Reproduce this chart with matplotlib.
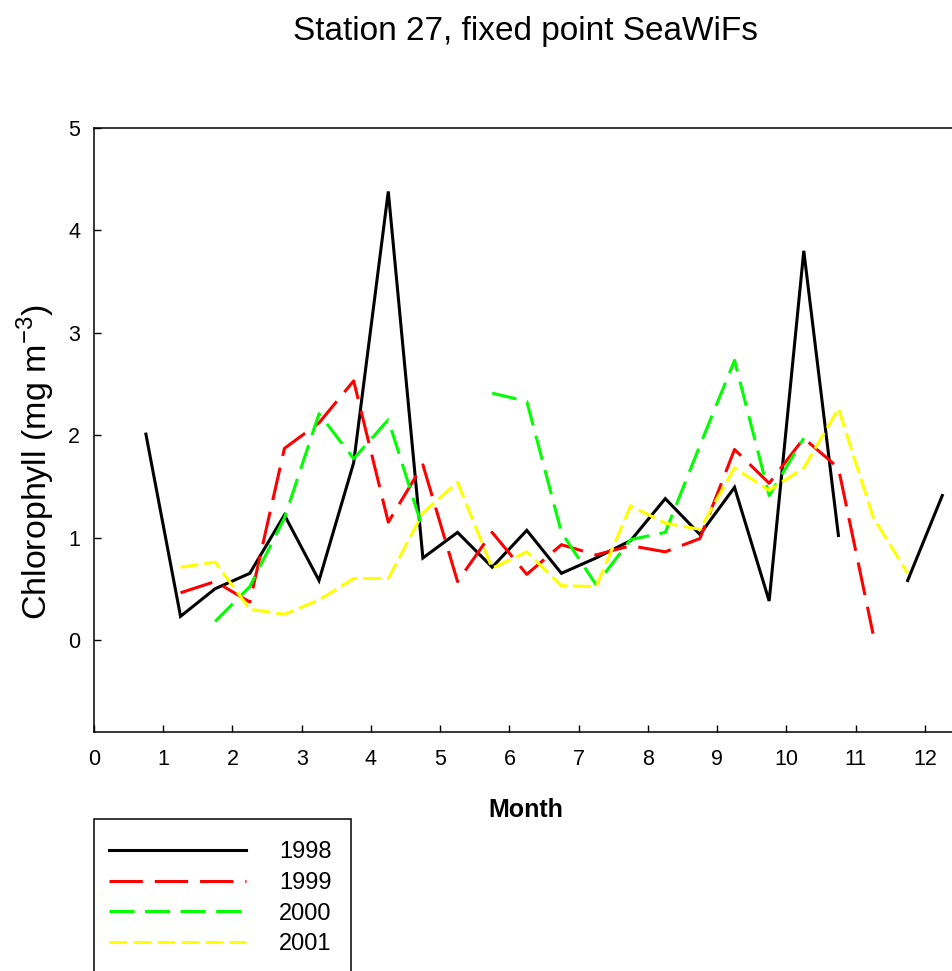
import numpy as np
import matplotlib
matplotlib.use("Agg")
import matplotlib.pyplot as plt
from matplotlib.patches import Rectangle

# Semi-monthly SeaWiFS chlorophyll at station 27 (NaN = no retrieval)
months = [0.75, 1.25, 1.75, 2.25, 2.75, 3.25, 3.75, 4.25, 4.75, 5.25, 5.75, 6.25,
          6.75, 7.25, 7.75, 8.25, 8.75, 9.25, 9.75, 10.25, 10.75, 11.25, 11.75, 12.25]
nan = np.nan
chl_1998 = [2.01, 0.23, 0.50, 0.65, 1.22, 0.58, 1.73, 4.38, 0.80, 1.05, 0.71, 1.07,
            0.65, 0.80, 0.97, 1.38, 1.03, 1.49, 0.38, 3.80, 1.02, nan, 0.58, 1.41]
chl_1999 = [nan, 0.46, 0.57, 0.37, 1.87, 2.12, 2.53, 1.15, 1.71, 0.57, 1.05, 0.64,
            0.93, 0.83, 0.92, 0.86, 0.99, 1.86, 1.53, 1.97, 1.68, 0.06, nan, nan]
chl_2000 = [nan, nan, 0.18, 0.52, 1.19, 2.21, 1.77, 2.15, 1.08, nan, 2.41, 2.33,
            1.05, 0.54, 0.98, 1.05, 1.90, 2.73, 1.41, 1.97, nan, nan, nan, nan]
chl_2001 = [nan, 0.71, 0.76, 0.30, 0.25, 0.39, 0.60, 0.60, 1.24, 1.54, 0.70, 0.86,
            0.53, 0.52, 1.31, 1.14, 1.08, 1.68, 1.46, 1.68, 2.26, 1.20, 0.65, nan]
years = ['1998', '1999', '2000', '2001']
colores = ['black', '#ff0000', '#00ff00', '#ffff00']
guiones = ['-', (0, (24, 8.6)), (0, (18, 7.6)), (0, (13, 4.3))]

plt.rcParams['font.family'] = ['Liberation Sans', 'DejaVu Sans']
plt.rcParams['lines.scale_dashes'] = False

fig = plt.figure(figsize=(9.53, 9.71), dpi=100)
ax = fig.add_axes([0.0986, 0.2461, 0.9044, 0.6221])

series = [chl_1998, chl_1999, chl_2000, chl_2001]
for valores, year, color, ls in zip(series, years, colores, guiones):
    ax.plot(months, valores, color=color, linestyle=ls, linewidth=2.2,
            label=year, solid_joinstyle='miter')

ax.set_xlim(0, 12.446)
ax.set_ylim(-0.9, 5)
ax.set_xticks(range(0, 13))
ax.set_yticks(range(0, 6))
ax.tick_params(direction='in', length=5, width=1, labelsize=15.5, color='black')
ax.tick_params(axis='x', pad=12)
ax.tick_params(axis='y', pad=10)
for sp in ax.spines.values():
    sp.set_linewidth(1.1)

fig.text(0.551, 0.968, 'Station 27, fixed point SeaWiFs', ha='center', va='center',
         fontsize=24)
fig.text(0.552, 0.1658, 'Month', ha='center', va='center', fontsize=18,
         fontweight='bold')
fig.text(0.038, 0.524, r'Chlorophyll (mg m$^{\mathregular{-3}}$)', ha='center',
         va='center', rotation=90, fontsize=24.5)

# legend box runs off the bottom of the page
caja = Rectangle((94 / 953, -0.02), (351 - 94) / 953, 1 - 819 / 971 + 0.02,
                 transform=fig.transFigure, fill=False, edgecolor='black',
                 linewidth=1.1)
fig.add_artist(caja)
leg = fig.legend(loc='upper left', bbox_to_anchor=(94 / 953, 1 - 826 / 971),
                 fontsize=17, handlelength=5.8, handletextpad=1.4,
                 borderpad=0.64, labelspacing=0.37, frameon=False,
                 borderaxespad=0)

fig.savefig('out.png', dpi=100)
